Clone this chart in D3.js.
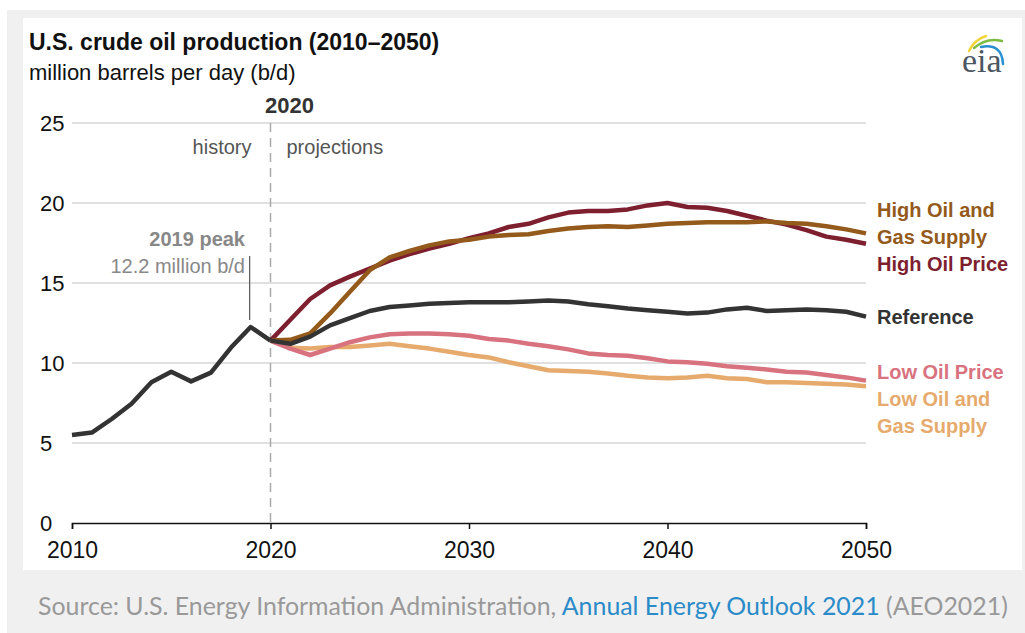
<!DOCTYPE html>
<html>
<head>
<meta charset="utf-8">
<script src="https://cdn.jsdelivr.net/npm/d3@7"></script>
<style>
  body { margin: 0; background: #fff; }
  svg { display: block; }
  text { font-family: "Liberation Sans Narrow", "Arial Narrow", "Liberation Sans", Arial, sans-serif; }
</style>
</head>
<body>
<div id="chart"></div>
<script>
// history, 2010-2020
const histYears = d3.range(2010, 2021);
const history = [5.5, 5.65, 6.5, 7.45, 8.8, 9.45, 8.85, 9.4, 10.95, 12.25, 11.4];

// projections, 2020-2050
const projYears = d3.range(2020, 2051);
const reference = [11.4, 11.2, 11.65, 12.35, 12.8, 13.25, 13.5, 13.6, 13.7, 13.75, 13.8, 13.8, 13.8, 13.85, 13.9, 13.85,
  13.67, 13.55, 13.4, 13.3, 13.2, 13.1, 13.15, 13.35, 13.45, 13.25, 13.3, 13.35, 13.3, 13.2, 12.9];
const highOilPrice = [11.4, 12.7, 14.0, 14.85, 15.4, 15.9, 16.4, 16.8, 17.15, 17.45, 17.8, 18.1, 18.5, 18.7, 19.1, 19.4,
  19.5, 19.5, 19.6, 19.85, 20.0, 19.75, 19.7, 19.5, 19.2, 18.9, 18.65, 18.3, 17.9, 17.7, 17.45];
const highSupply = [11.4, 11.45, 11.85, 13.1, 14.45, 15.8, 16.6, 17.0, 17.35, 17.6, 17.7, 17.9, 18.0, 18.05, 18.25, 18.4,
  18.5, 18.55, 18.5, 18.6, 18.7, 18.75, 18.8, 18.8, 18.8, 18.85, 18.75, 18.7, 18.55, 18.35, 18.1];
const lowOilPrice = [11.4, 10.9, 10.5, 10.9, 11.3, 11.6, 11.8, 11.85, 11.85, 11.8, 11.7, 11.5, 11.4, 11.2, 11.05, 10.85,
  10.6, 10.5, 10.45, 10.3, 10.1, 10.05, 9.95, 9.8, 9.7, 9.6, 9.45, 9.4, 9.25, 9.1, 8.9];
const lowSupply = [11.4, 10.95, 10.9, 11.0, 11.0, 11.1, 11.2, 11.05, 10.9, 10.7, 10.5, 10.35, 10.05, 9.8, 9.55, 9.5,
  9.45, 9.35, 9.2, 9.1, 9.05, 9.1, 9.2, 9.05, 9.0, 8.8, 8.8, 8.75, 8.7, 8.65, 8.55];

const yTicks = [0, 5, 10, 15, 20, 25];
const xTicks = [2010, 2020, 2030, 2040, 2050];

const width = 1025, height = 633;

const svg = d3.select("#chart")
  .append("svg")
  .attr("width", width)
  .attr("height", height);

// grey frame and white panel
svg.append("rect").attr("x", 7).attr("y", 10).attr("width", 1018).attr("height", 623).attr("fill", "#f0f0f0");
svg.append("rect").attr("x", 23).attr("y", 18).attr("width", 999).attr("height", 552).attr("fill", "#fff");

const x = d3.scaleLinear().domain([2010, 2050]).range([72, 866]);
const y = d3.scaleLinear().domain([0, 25]).range([523, 123]);

// gridlines
svg.append("g")
  .selectAll("line")
  .data(yTicks.filter(d => d > 0))
  .enter()
  .append("line")
  .attr("x1", x(2010)).attr("x2", x(2050))
  .attr("y1", d => y(d)).attr("y2", d => y(d))
  .attr("stroke", "#d6d6d6")
  .attr("stroke-width", 1.5);

// y labels
svg.append("g")
  .selectAll("text")
  .data(yTicks)
  .enter()
  .append("text")
  .attr("x", 40)
  .attr("y", d => y(d) + 8)
  .attr("font-size", 22)
  .attr("fill", "#111")
  .text(d => d);

// x axis
const xAxis = svg.append("g")
  .attr("transform", "translate(0," + y(0) + ")")
  .call(d3.axisBottom(x).tickValues(xTicks).tickFormat(d3.format("d")).tickSize(6).tickPadding(13));
xAxis.select(".domain").attr("stroke", "#111").attr("stroke-width", 1.5);
xAxis.selectAll(".tick line").attr("stroke", "#111").attr("stroke-width", 1.5);
xAxis.selectAll("text")
  .attr("font-size", 23)
  .attr("fill", "#111")
  .style("font-family", "\"Liberation Sans Narrow\", \"Liberation Sans\", Arial, sans-serif");

// 2020 divider
svg.append("line")
  .attr("x1", x(2020)).attr("x2", x(2020))
  .attr("y1", y(25)).attr("y2", y(0))
  .attr("stroke", "#aaa")
  .attr("stroke-width", 1.5)
  .attr("stroke-dasharray", "9,6");

svg.append("text").attr("x", x(2020) + 19).attr("y", 113)
  .attr("text-anchor", "middle").attr("font-size", 22).attr("font-weight", "bold").attr("fill", "#333")
  .text("2020");
svg.append("text").attr("x", x(2020) - 19).attr("y", 154)
  .attr("text-anchor", "end").attr("font-size", 20).attr("fill", "#555")
  .text("history");
svg.append("text").attr("x", x(2020) + 16).attr("y", 154)
  .attr("font-size", 20).attr("fill", "#555")
  .text("projections");

// 2019 peak callout
svg.append("line")
  .attr("x1", x(2019) - 1).attr("x2", x(2019) - 1)
  .attr("y1", 256).attr("y2", y(history[9]) - 7)
  .attr("stroke", "#555").attr("stroke-width", 1.2);
svg.append("text").attr("x", 245).attr("y", 246)
  .attr("text-anchor", "end").attr("font-size", 20).attr("font-weight", "bold").attr("fill", "#888")
  .text("2019 peak");
svg.append("text").attr("x", 245).attr("y", 273)
  .attr("text-anchor", "end").attr("font-size", 20).attr("fill", "#888")
  .text("12.2 million b/d");

// lines
const line = d3.line()
  .x(d => x(d[0]))
  .y(d => y(d[1]));

const series = [
  { values: lowSupply, color: "#e6aa6d" },
  { values: lowOilPrice, color: "#d9727f" },
  { values: highOilPrice, color: "#7d1f2f" },
  { values: highSupply, color: "#935a1b" },
  { values: reference, color: "#333333" }
];

svg.append("g")
  .selectAll("path")
  .data(series)
  .enter()
  .append("path")
  .attr("d", s => line(projYears.map((yr, i) => [yr, s.values[i]])))
  .attr("fill", "none")
  .attr("stroke", s => s.color)
  .attr("stroke-width", 4.5)
  .attr("stroke-linejoin", "round");

svg.append("path")
  .attr("d", line(histYears.map((yr, i) => [yr, history[i]])))
  .attr("fill", "none")
  .attr("stroke", "#333333")
  .attr("stroke-width", 4.5)
  .attr("stroke-linejoin", "round");

// labels at right
const labels = [
  { text: "High Oil and", y: 217, color: "#935a1b" },
  { text: "Gas Supply", y: 244, color: "#935a1b" },
  { text: "High Oil Price", y: 271, color: "#7d1f2f" },
  { text: "Reference", y: 324, color: "#333333" },
  { text: "Low Oil Price", y: 379, color: "#d9727f" },
  { text: "Low Oil and", y: 406, color: "#e6aa6d" },
  { text: "Gas Supply", y: 433, color: "#e6aa6d" }
];
svg.append("g")
  .selectAll("text")
  .data(labels)
  .enter()
  .append("text")
  .attr("x", 877)
  .attr("y", d => d.y)
  .attr("font-size", 20)
  .attr("font-weight", "bold")
  .attr("fill", d => d.color)
  .text(d => d.text);

// title
svg.append("text").attr("x", 29).attr("y", 50)
  .attr("font-size", 23).attr("font-weight", "bold").attr("fill", "#111")
  .text("U.S. crude oil production (2010\u20132050)");
svg.append("text").attr("x", 29).attr("y", 80)
  .attr("font-size", 22).attr("fill", "#111")
  .text("million barrels per day (b/d)");

// eia logo
const logo = svg.append("g").attr("transform", "translate(962,34)");
logo.append("path").attr("d", "M7,17 Q12,6 24,2").attr("fill", "none").attr("stroke", "#f2d43a").attr("stroke-width", 2.5).attr("stroke-linecap", "round");
logo.append("path").attr("d", "M12,14 Q25,3 40,7").attr("fill", "none").attr("stroke", "#7dbb42").attr("stroke-width", 2.5).attr("stroke-linecap", "round");
logo.append("path").attr("d", "M19,13 Q40,9 41,30").attr("fill", "none").attr("stroke", "#2a8fd0").attr("stroke-width", 2.5).attr("stroke-linecap", "round");
logo.append("text").attr("x", 0).attr("y", 38)
  .attr("font-size", 34).attr("fill", "#4a5662")
  .style("font-family", "\"Liberation Serif\", \"DejaVu Serif\", serif")
  .text("eia");

// source
const src = svg.append("text").attr("x", 38).attr("y", 615)
  .attr("font-size", 24.9).attr("fill", "#999")
  .style("font-family", "Lato, \"Open Sans\", sans-serif");
src.append("tspan").text("Source: U.S. Energy Information Administration, ");
src.append("tspan").attr("fill", "#2b8bc8").text("Annual Energy Outlook 2021");
src.append("tspan").text(" (AEO2021)");
</script>
</body>
</html>
